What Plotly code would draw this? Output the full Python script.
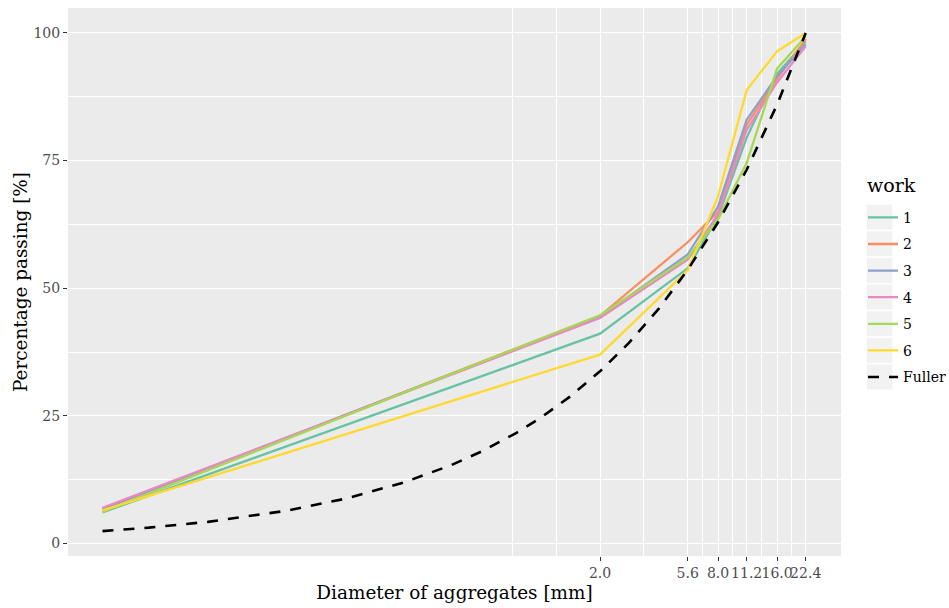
import plotly.graph_objects as go

# ---- data ----
sieve_mm = [0.0058, 2.0, 5.6, 8.0, 11.2, 16.0, 22.4]
works = ["1", "2", "3", "4", "5", "6"]
work_1 = [6.1, 41.1, 53.9, 64.0, 79.5, 92.0, 98.3]
work_2 = [6.7, 44.6, 59.0, 65.0, 82.0, 91.0, 98.8]
work_3 = [6.8, 44.4, 56.6, 66.0, 83.0, 91.5, 97.8]
work_4 = [7.0, 44.2, 55.6, 64.5, 81.0, 90.3, 97.4]
work_5 = [6.2, 44.7, 56.0, 63.5, 74.5, 93.0, 99.3]
work_6 = [6.5, 37.0, 53.5, 68.0, 88.8, 96.4, 100.0]
work_values = [work_1, work_2, work_3, work_4, work_5, work_6]

fuller_mm = [0.0058, 0.01, 0.02, 0.05, 0.1, 0.2, 0.35, 0.5, 0.75, 1.0, 1.4,
             2.0, 2.8, 4.0, 5.6, 8.0, 11.2, 16.0, 22.4]
fuller_pct = [2.43, 3.11, 4.25, 6.41, 8.76, 11.96, 15.39, 18.07, 21.68, 24.68,
              28.72, 33.72, 39.23, 46.06, 53.59, 62.91, 73.20, 85.95, 100.0]

x_ticks = [2.0, 5.6, 8.0, 11.2, 16.0, 22.4]
x_ticktext = ["2.0", "5.6", "8.0", "11.2", "16.0", "22.4"]
x_minor = [0.7143, 1.1952, 3.347, 6.693, 9.466, 13.387, 18.93]
y_ticks = [0, 25, 50, 75, 100]
y_minor = [12.5, 37.5, 62.5, 87.5]

colors = ["#66C2A5", "#FC8D62", "#8DA0CB", "#E78AC3", "#A6D854", "#FFD92F"]

FONT = "DejaVu Serif"

fig = go.Figure()
for name, vals, col in zip(works, work_values, colors):
    fig.add_trace(go.Scatter(x=sieve_mm, y=vals, mode="lines", name=name,
                             legendgroup=name,
                             line=dict(color=col, width=2.3)))
fig.add_trace(go.Scatter(x=fuller_mm, y=fuller_pct, mode="lines", name="Fuller",
                         legendgroup="Fuller",
                         line=dict(color="black", width=2.6, dash="11px,10px")))

# plot area in pixels
L, R, T, B = 68, 841, 8, 556.5
W, H = 949, 608
pw, ph = R - L, B - T

def px2paper_x(px):
    return (px - L) / pw

def px2paper_y(py):
    return (B - py) / ph

# legend key backgrounds
shapes = []
for i in range(7):
    cy = 217.3 + i * 26.67
    shapes.append(dict(type="rect", xref="paper", yref="paper",
                       x0=px2paper_x(866.7), x1=px2paper_x(892.3),
                       y0=px2paper_y(cy - 12.5), y1=px2paper_y(cy + 12.5),
                       fillcolor="#F2F2F2", line=dict(width=0), layer="below"))

fig.update_layout(
    width=W, height=H,
    margin=dict(l=L, r=W - R, t=T, b=H - B, pad=0, autoexpand=False),
    paper_bgcolor="white", plot_bgcolor="#EBEBEB",
    font=dict(family=FONT, color="black"),
    shapes=shapes,
    annotations=[dict(text="work", xref="paper", yref="paper",
                      x=px2paper_x(865), y=px2paper_y(185),
                      xanchor="left", yanchor="middle", showarrow=False,
                      font=dict(family=FONT, size=19, color="black"))],
    showlegend=True,
    legend=dict(
        font=dict(family=FONT, size=14, color="black"),
        x=px2paper_x(863), xanchor="left",
        y=px2paper_y(202), yanchor="top",
        bgcolor="rgba(0,0,0,0)",
        traceorder="grouped", tracegroupgap=5.4,
        itemwidth=30,
    ),
    xaxis=dict(
        type="log", automargin=False,
        range=[-2.4126, 1.5303],
        tickmode="array", tickvals=x_ticks, ticktext=x_ticktext,
        tickangle=0,
        showgrid=True, gridcolor="white", gridwidth=1.3,
        zeroline=False, showline=False,
        ticks="outside", ticklen=4, tickwidth=1.1, tickcolor="#333333",
        tickfont=dict(family=FONT, size=14, color="#4D4D4D"),
        minor=dict(tickmode="array", tickvals=x_minor, showgrid=True,
                   gridcolor="white", gridwidth=0.65, ticks=""),
        title=dict(text="Diameter of aggregates [mm]",
                   font=dict(family=FONT, size=18.4, color="black"), standoff=6),
    ),
    yaxis=dict(
        automargin=False,
        range=[-2.44, 104.88],
        tickmode="array", tickvals=y_ticks,
        showgrid=True, gridcolor="white", gridwidth=1.3,
        zeroline=False, showline=False,
        ticks="outside", ticklen=4, tickwidth=1.1, tickcolor="#333333",
        tickfont=dict(family=FONT, size=14, color="#4D4D4D"),
        minor=dict(tickmode="array", tickvals=y_minor, showgrid=True,
                   gridcolor="white", gridwidth=0.65, ticks=""),
        title=dict(text="Percentage passing [%]",
                   font=dict(family=FONT, size=18.4, color="black"), standoff=1),
    ),
)

fig.write_html("out.html",
               config={"displayModeBar": False},
               post_script="document.body.style.margin='0';")
